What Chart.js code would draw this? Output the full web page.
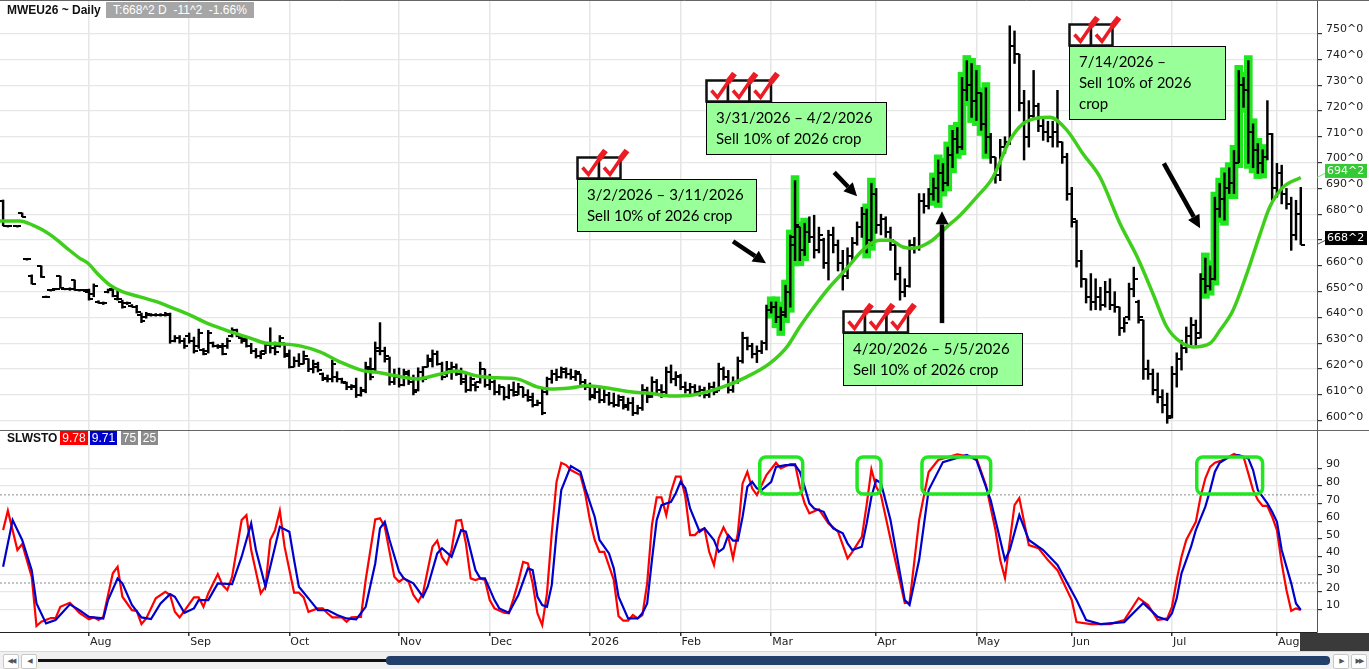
<!DOCTYPE html>
<html lang="en">
<head>
<meta charset="UTF-8">
<title>MWEU26 ~ Daily</title>
<script src="https://cdn.jsdelivr.net/npm/chart.js@4.4.1/dist/chart.umd.min.js"></script>
<style>
  html, body { margin: 0; padding: 0; background: #fff; }
  #wrap { position: relative; width: 1369px; height: 669px; overflow: hidden; }
  #box { position: absolute; left: 0; top: 0; width: 1369px; height: 651px; }
  .t { position: absolute; font: 12px "Liberation Sans", sans-serif; line-height: 14px; white-space: pre; }
  .b { font-weight: bold; color: #111; }
  .tag { color: #fff; text-align: center; height: 14px; }
  #scroll { position: absolute; left: 0; top: 651px; width: 1369px; height: 18px; background: #f0f0f0; border-top: 1px solid #d8d8d8; }
  .btn { position: absolute; top: 2px; width: 14px; height: 13px; background: #fff; border: 1px solid #c8c8c8; border-radius: 2px;
         font: 7px "DejaVu Sans"; line-height: 13px; text-align: center; color: #555; letter-spacing: -2px; }
  #track { position: absolute; left: 38px; top: 7px; width: 1292px; height: 3px; background: #111; }
  #thumb { position: absolute; left: 386px; top: 4px; width: 944px; height: 9px; background: #23406b; border-radius: 4px; }
  #corner { position: absolute; left: 1300px; top: 633px; width: 69px; height: 18px; background: #3a3a3a; }
</style>
</head>
<body>
<div id="wrap">
  <div id="box"><canvas id="chart"></canvas></div>

  <div class="t b" style="left:7px; top:3px;">MWEU26 ~ Daily</div>
  <div class="t tag" style="left:106px; top:2px; width:148px; height:16px; line-height:16px; background:#a6a6a6;">T:668^2 D  -11^2  -1.66%</div>

  <div class="t b" style="left:7px; top:431px;">SLWSTO</div>
  <div class="t tag" style="left:60px; top:431px; width:28px; background:#ff0000;">9.78</div>
  <div class="t tag" style="left:90px; top:431px; width:27px; background:#0000cc;">9.71</div>
  <div class="t tag" style="left:121px; top:431px; width:17px; background:#8c8c8c;">75</div>
  <div class="t tag" style="left:141px; top:431px; width:17px; background:#8c8c8c;">25</div>

  <div id="corner"></div>
  <div id="scroll">
    <div class="btn" style="left:3px;">&#9664;&#9664;</div>
    <div class="btn" style="left:21px;">&#9664;</div>
    <div id="track"></div>
    <div id="thumb"></div>
    <div class="btn" style="left:1333px;">&#9654;</div>
    <div class="btn" style="left:1351px;">&#9654;&#9654;</div>
  </div>
</div>

<script>
// ---- month ticks (bar index where each month starts) ----
var monthStarts = [18, 39, 60, 83, 102, 123, 142, 161, 183, 204, 224, 245, 267];
var monthLabels = ['Aug', 'Sep', 'Oct', 'Nov', 'Dec', '2026', 'Feb', 'Mar', 'Apr', 'May', 'Jun', 'Jul', 'Aug'];
var priceTicks = [600, 610, 620, 630, 640, 650, 660, 670, 680, 690, 700, 710, 720, 730, 740, 750];
var stochTicks = [10, 20, 30, 40, 50, 60, 70, 80, 90];
var stochLevels = [75, 25];

// ---- daily bars, one entry per trading day ----
var opens = [685,675.3,null,675.3,680.5,662.5,656,null,660,648,
650.5,651,656,651,651,654.5,650.5,650.5,650,649,
646,645.5,650,651,647,646,645.5,644.5,644,641,
640,641,641,641,641,641,631,632,631,633,
631,629,627.5,627,630,629,629,629,633,635,
632,631,629,627,625,627,630,628,629,630,
626,621,623,622,624,620,621,618,616.5,616,
617,616,614.5,613,613,610,612,620,620,628,
627,624,615,617,614,618,616,612,619,621,
623,626,622,618,619,621,618,616,612,614,
615,620,614,615,611,613,609,612,611,613,
610,609,606,607,611,616,618,617,619,618,
617,618,615,613,610,611,608,610,607,606,
608,606,607,603,605,612,610,615,612,611,
619,616,617,613,612,613,611,612,610,613,
612,620,617,612,615,623,632,629,626,627,
630,643,644,640,641,650,671,675,666,673,
671,666,670,661,672,668,661,656,664,669,
675,680,670,688,676,678,673,668,657,650,
652,668,667,685,683,688,690,696,692,703,
709,706,728,730,724,727,715,710,702,695,
706,708,745,742,723,710,718,722,714,712,
710,712,708,702,688,677,662,655,648,646,
648,645,650,645,644,636,640,651,646,639,
620,618,612,609,606,602,618,624,628,633,
637,634,655,652,655,682,686,690,692,700,
730,728,712,705,700,702,711,690,696,688,
684,672,680];

var highs = [685.5,675.5,null,675.5,680.5,662.8,656.5,null,660,648.3,
650.8,651.3,656,651.3,651.5,654.5,650.8,650.8,651,653,
646.5,646,651,651.7,650.5,646.7,646,645,644.7,641.7,
642,641.5,641.5,641.5,642,641.7,633,633,632,634,
632.4,635.5,628,635,630.5,629.5,630,632,636,635.5,
633,632.4,630,628,627,630,636,630.5,633,630,
627.4,624.7,626,627,624,623.5,622.7,618.5,617.7,623.5,
619,616.5,615,614,616.5,613,622.7,624.3,630.5,638,
628.5,624.7,620,620.4,620,619.6,617.7,620.5,621,625.5,
627.4,627,622.7,623,622.7,622,620.4,618.5,617,615,
622.7,620,618,615.8,614,613,614,615,614.5,613,
612,610.7,608,612.7,616.9,619.6,620,620.8,620.5,620,
619.5,618,616,614.6,613,612.7,612,611,610.7,610,
609.5,608.8,609,606,614,613,617,616,614,620.8,
621.6,619,618,615,614.5,614,613.5,613,614.6,615,
622.3,620.8,619.5,617,624.7,634.3,632.4,630,629,631,
644.8,646,646,644,652.5,671.9,693,675,676.5,679,
679.6,675,670.7,673.8,675,670,666,667,671,677,
682.7,682,692,690,680,679,675,668.8,659.5,655,
670,671,688,688,690,694,701,699.7,706,712.5,
713.6,733,739.5,738.4,735.7,727,729,711.3,702,709,
710,753,751,742,728,724,735.7,723,717.5,716,
716,728,708,703.6,690.4,677.7,666,655,657,655,
651.7,654,655,650,644,640,653.3,659.5,646.7,639,
623.5,620,618.5,612,610.7,621,626.3,631.2,636.3,640,
639,657,663,660,686.6,692,696,698,704.7,735.7,
733,739.5,715,707.4,705,724,711.3,699.7,699,690,
686.6,685.4,690.4];

var lows = [675.5,675,null,675,679,662.2,653,null,655.5,647.7,
650.2,650.7,651.5,650.7,650.5,650.5,650.2,650,646.7,648,
645.5,645,649.5,648,646.7,643.6,645,644,641.7,638,
639.7,640.5,640.5,640.5,640.5,630,630.5,630,628,630,
626.2,628,625.5,626.2,628.5,628,625.5,628,632.4,632.5,
630,628.5,626,624.3,624,626,626.2,625.5,628.5,624.5,
620.4,620.8,621,622,619,618.5,618.9,615.5,615,615,
615,614.5,612,612,609,609.5,610.8,615.8,619,625.5,
622.7,613.8,614,613,613.5,614,610,611.5,615,620.8,
620.8,621.5,615.8,617,616,617.5,614,611,611.5,611.5,
614.5,613,612,610,610,608,608.5,609.5,610,609,
607.5,605.3,605.8,602.3,610,614.5,615.5,616.5,616.5,616,
615.5,614,612,608,608.5,606.9,607,606,605.3,605.5,
604.5,604,602,602.5,604,607,609,610,609,610.5,
614.6,613.5,612,610.7,610,610.5,609.5,608.8,609,610,
611.5,615.8,610.7,611,614.5,622.3,627.4,624.3,622.5,626,
627.4,641.7,638,635,640,644,662,662,664,669,
663,665,659,654.5,665,658,650.6,655,662,668,
671,665,668,672.6,672,671,666,654.5,646.7,648,
651.7,664.9,666,680.4,682,685.4,684.6,689,691,698,
703.6,705,724,717.5,716.3,712.5,703.6,699.7,692,693,
703.6,707,738.4,720,701,706,717,712,708.6,708,
706,706,699.7,685.4,675,659.5,651.7,645.6,642.8,643,
642.8,644,643,642,633,634.3,639,648,637.8,616,
616,610,606.9,603,599,601,613,619.6,626.3,628.5,
629,632,649.4,650.6,654.5,678.8,677.7,688,688,700,
721.4,699.7,698,695.8,696,701,685.4,686.6,684,682,
666,670,668.25];

var closes = [675.5,675.3,null,675.3,679,662.5,653,null,655.5,648,
650.5,651,651.5,651,651,650.5,650.5,650.5,647,652,
645.5,645.5,650.5,648.5,647,644,645.5,644,642,638.5,
641.5,641,641,641,641.5,631,632,631,629,631,
627,634,626,634,629,628.5,626,631,635,633,
631.5,629,627,625,626,629.5,628,626.5,632,625,
621,623,622,625,620,622,619.5,616,616,622,
616,615,613,613.5,610,611.5,621,617,627,627,
625,615,617,614,619,615,611,619,616,624,
626,622,617,620,621,618,615,612,616,613,
620,614,617,611,613,609,612,610,613,610,
608,606,607,603,616,618,617,620,618,617,
619,615,613,609,611,608,610,607,606,609,
605.5,607,603,605,612,609,615,612,610,619,
616,617.5,613,612,613,611,612,610,613,611,
620,617,612,615,623,632,629,626,627,630,
643,644,640,642,650,668,676,666,673,671,
666,672,661,672,668,661,656,664,669,675,
680,670,688,676,678,673,670,657,650,652,
668,667,685,683,688,690,696,692,703,709,
706,728,730,724,727,715,710,702,695,706,
708,745,742,723,710,718,722,714,712,710,
712,708,702,688,678,662,655,648,646,648,
645,650,645,644,636,638,651,655,640,620,
618,612,609,606,601,618,624,628,633,637,
632,655,652,655,682,686,690,692,700,730,
728,712,705,700,702,711,690,696,688,684,
672,680,668.25];

// bars painted green (first index, last index)
var highlightRanges = [[161, 168], [181, 182], [195, 206], [252, 264]];

// moving average: [bar index, value]
var maPoints = [[-0.65,677.4],[3.5,677.4],[6.3,675.7],[8.4,673.8],[10.5,671.2],[13.4,666.8],[16.1,662.9],[17.8,661.0],
[19.7,657.1],[22.4,652.5],[25.1,649.9],[28.7,648.0],[32.3,646.0],[35.6,643.6],[39.2,640.9],[42.7,637.8],
[45.5,635.9],[48.2,634.1],[51.8,632.0],[54.9,630.1],[58.7,629.7],[62.2,629.0],[66.4,626.7],[70.6,622.8],
[75.4,619.4],[79.0,618.6],[82.6,617.3],[86.8,616.2],[91.0,617.8],[95.1,619.3],[99.3,617.3],[103.5,616.6],
[107.7,616.2],[111.9,613.1],[114.6,612.3],[118.8,612.7],[122.4,613.5],[126.6,612.7],[131.4,611.2],[135.6,610.6],
[139.8,609.6],[144.6,610.0],[150.3,612.7],[155.9,617.0],[160.7,622.2],[164.3,628.6],[167.0,636.4],[170.6,645.6],
[173.3,651.9],[176.9,659.1],[180.2,666.1],[183.8,669.9],[185.9,669.9],[188.6,667.3],[190.7,666.8],[194.3,669.3],
[197.8,675.1],[200.6,679.6],[204.1,686.7],[207.5,694.4],[211.0,708.6],[213.8,715.1],[216.7,717.2],[219.4,717.6],
[223.0,712.5],[226.3,703.5],[229.9,694.4],[234.1,676.4],[237.7,663.5],[241.0,649.3],[243.9,636.4],[246.7,630.6],
[249.4,628.6],[253.0,630.0],[255.1,635.1],[257.8,642.8],[260.7,657.0],[263.5,672.5],[265.5,682.8],[268.3,690.5],
[272,694.25]];

// slow stochastic, %K (red) and %D (blue): [bar index, value]
var stochK = [[0,55],[1,66],[3,43.7],[4,47.1],[6,28.5],[7,0.6],[8,3],[10,5.1],[11,5.1],[12,11.5],[14,13.8],[16,8.1],
[18,4.4],[19,5.5],[20,4],[21,5.8],[23,30.5],[24,34.2],[25,17.2],[27,9.6],[28,9.2],[29,1.7],[30,4.9],[32,16.3],
[34,20],[35,18.2],[36,8.7],[37,5.5],[38,9.2],[40,16.8],[41,16.8],[42,11.5],[43,19.1],[45,30.1],[46,23.8],[47,21],
[48,28.5],[50,60.7],[51,63.5],[52,43.7],[54,19.1],[55,22.9],[56,49.4],[57,55],[58,66],[59,45.6],[61,19.5],[62,19.5],
[63,16.8],[64,8.7],[66,10.6],[67,10.6],[68,7.8],[69,5.5],[71,5.5],[72,3],[73,5.5],[75,5.8],[76,26.7],[78,61.1],
[79,61.7],[80,56.9],[82,28.5],[83,25.7],[84,27.6],[85,25.7],[86,18.2],[87,14.4],[88,19.1],[90,45.6],[91,49],[92,39.5],
[93,35.7],[94,43.7],[95,60.3],[96,60.7],[97,47.5],[98,27.6],[99,26.7],[100,27.6],[101,26.7],[102,15.3],[103,10.6],
[105,8.1],[106,7.8],[107,16.3],[108,25.7],[109,37],[110,36.1],[111,24.8],[112,7.8],[113,1.1],[114,19.1],[115,53.2],
[116,82.4],[117,93.2],[118,91.9],[119,89.1],[121,86.2],[122,75.9],[123,60.7],[124,49.4],[125,42.7],[126,42.7],
[128,26.7],[129,6.2],[130,3.6],[131,3.6],[132,6.8],[133,4.9],[134,6.8],[135,24.8],[136,57.9],[137,73.6],[138,73.6],
[139,63.5],[140,76.8],[141,85.3],[142,85.3],[143,73.9],[144,52.2],[145,52.2],[146,55],[147,56],[148,42.7],[149,35.2],
[150,50.3],[151,56.6],[152,51.2],[153,39],[154,53.2],[155,81.5],[156,88.1],[157,78.7],[158,74.9],[160,86.2],
[162,93.2],[163,90],[165,92.5],[166,92.5],[167,79.6],[168,70.2],[169,64.5],[171,66.8],[173,58.8],[174,56.6],
[175,54.1],[177,39],[178,42.7],[180,51.2],[181,69.2],[182,89.5],[183,79.6],[184,74.9],[186,50],[189,13.6],[190,14],
[192,60.7],[194,88],[196,94.8],[200,98],[204,96],[206,80.6],[208,55],[209,38],[210,27.8],[212,69.2],[213,73.2],
[215,46.5],[217,44.8],[219,38],[221,32.3],[224,15.3],[225,2.8],[228,1.7],[232,1.7],[235,4],[238,16.5],[240,12.5],
[242,4],[244,4.9],[245,11.5],[246,26.7],[247,39.9],[248,49.4],[250,59.7],[251,73.9],[252,84.4],[253,90.9],[254,93.2],
[256,95.1],[258,98.2],[259,97],[260,96.6],[261,87.2],[262,77.7],[263,72.1],[264,68.7],[265,68.7],[266,62.6],[267,55],
[268,36.1],[269,21],[270,9.2],[271,10.6],[272,9.78]];

var stochD = [[0,34.2],[2,60.7],[4,49.4],[6,32.3],[7,13.4],[9,2.1],[11,4],[14,12.9],[16,9.6],[18,5.8],[21,4.9],[22,15.3],
[24,27.6],[25,24.8],[27,12.5],[29,5.5],[31,4.5],[33,13.4],[35,18.7],[36,17.2],[38,8.1],[40,10.6],[41,15.3],[43,15.3],
[45,24.8],[48,24.4],[50,39.9],[52,58.8],[53,43.7],[55,22.9],[56,34.2],[58,56.9],[60,54.1],[61,38],[62,22.9],[64,16.3],
[66,9.6],[68,9.6],[70,6.8],[72,4.9],[74,4.4],[76,11.5],[78,36.1],[79,56],[80,59.7],[81,49.4],[83,31.4],[84,27.6],
[86,24.8],[88,17.2],[89,22.9],[91,41.8],[92,44.7],[94,39.9],[96,55],[97,54.1],[99,32.3],[100,27.6],[101,27.6],
[103,15.3],[104,10.6],[106,8.1],[108,18.2],[110,33.3],[111,32.3],[112,17.2],[113,12.5],[114,11.5],[115,23.8],
[116,53.2],[117,77.7],[119,91.3],[121,88.1],[122,78.7],[124,62.6],[125,49.4],[127,41.8],[128,33.3],[129,17.2],
[131,4.9],[133,4.9],[134,7.8],[135,13.4],[136,38],[137,60.7],[138,69.2],[140,71.1],[141,75.9],[142,82.4],[143,78.7],
[144,67.3],[146,54.1],[147,56],[149,49.4],[150,42.7],[151,44.7],[152,52.2],[153,49],[154,49],[155,62.6],[156,79.6],
[157,82.4],[158,78.7],[159,77.7],[161,82.4],[162,90.9],[164,91.9],[166,91.9],[167,88.1],[168,79.6],[169,70.2],
[170,67.3],[172,65.4],[173,59.7],[174,56],[176,53.2],[177,47.5],[178,43.7],[180,45.6],[181,58.8],[182,73.9],
[183,83.4],[184,81.7],[186,60.7],[189,15.3],[190,12.5],[192,38],[194,77.7],[197,93.6],[202,97.6],[204,94.8],
[207,72],[210,38],[211,43.7],[213,63.5],[215,49.4],[218,43.7],[221,35.2],[225,15.3],[227,4],[230,1.7],[235,2.8],
[239,13.6],[242,5.8],[244,4],[245,7.8],[246,16.3],[247,30.5],[249,45.6],[250,55],[252,68.3],[253,77.7],[254,88.1],
[255,93.2],[257,96.6],[259,97.6],[261,95.7],[262,89.1],[263,77.7],[265,70.2],[266,65.4],[267,59.7],[268,43.7],
[270,24.8],[271,13.4],[272,9.71]];

// annotations, anchored to bar index / price
var noteBoxes = [
  { i: 120.3, p: 693.5, w: 179, h: 52, checks: 2, lines: ['3/2/2026 \u2013 3/11/2026', 'Sell 10% of 2026 crop'] },
  { i: 147.3, p: 723.3, w: 180, h: 52, checks: 3, lines: ['3/31/2026 \u2013 4/2/2026', 'Sell 10% of 2026 crop'] },
  { i: 176.0, p: 634.0, w: 179, h: 52, checks: 3, lines: ['4/20/2026 \u2013 5/5/2026', 'Sell 10% of 2026 crop'] },
  { i: 223.4, p: 745.0, w: 156, h: 73, checks: 2, lines: ['7/14/2026 \u2013', 'Sell 10% of 2026', 'crop'] }
];
var arrows = [
  [[153.0, 669.5], [159.9, 661.0]],
  [[174.2, 696.2], [179.0, 687.0]],
  [[196.8, 637.8], [196.8, 681.1]],
  [[243.3, 699.7], [250.9, 674.6]]
];
var stochBoxes = [[158.6, 167.6], [179.0, 184.0], [192.6, 207.0], [250.2, 264.0]];
var lastMA = 694.25, lastClose = 668.25;

// ---- build datasets ----
var barData = [], hiData = [], openData = [], closeData = [];
highs.forEach(function (h, i) {
  if (h == null) return;
  barData.push({ x: i, y: [lows[i], h] });
  openData.push({ x: i, y: opens[i] });
  closeData.push({ x: i, y: closes[i] });
});
highlightRanges.forEach(function (r) {
  for (var i = r[0]; i <= r[1]; i++) hiData.push({ x: i, y: [lows[i] - 2, highs[i] + 2] });
});

function tickImage(left) {
  var c = document.createElement('canvas');
  c.width = 8; c.height = 2;
  var g = c.getContext('2d');
  g.fillStyle = '#000';
  g.fillRect(left ? 0 : 4, 0, 4, 2);
  return c;
}

var xMin = -0.65, xMax = 275.4;
function pairs(a) { return a.map(function (p) { return { x: p[0], y: p[1] }; }); }

// fixed axis sizes, no extra room for half labels
function fitY(s) { s.width = 52; s.paddingTop = 0; s.paddingBottom = 0; }
function fitX(s) { s.height = 19; s.paddingLeft = 0; s.paddingRight = 0; }

var overlay = {
  id: 'overlay',
  afterDatasetsDraw: function (chart) {
    var ctx = chart.ctx, x = chart.scales.x, y = chart.scales.y, ys = chart.scales.ys;
    ctx.save();
    // green rounded boxes on the stochastic
    ctx.strokeStyle = '#22e622';
    ctx.lineWidth = 3.5;
    stochBoxes.forEach(function (b) {
      var x0 = x.getPixelForValue(b[0]), x1 = x.getPixelForValue(b[1]);
      var y0 = ys.getPixelForValue(96.5), y1 = ys.getPixelForValue(75.5);
      ctx.beginPath();
      ctx.roundRect(x0, y0, x1 - x0, y1 - y0, 6);
      ctx.stroke();
    });
    // arrows
    ctx.strokeStyle = '#000';
    ctx.fillStyle = '#000';
    arrows.forEach(function (a) {
      var x0 = x.getPixelForValue(a[0][0]), y0 = y.getPixelForValue(a[0][1]);
      var x1 = x.getPixelForValue(a[1][0]), y1 = y.getPixelForValue(a[1][1]);
      var ang = Math.atan2(y1 - y0, x1 - x0), head = 13, half = 6.5;
      var bx = x1 - head * Math.cos(ang), by = y1 - head * Math.sin(ang);
      ctx.lineWidth = 4.5;
      ctx.beginPath(); ctx.moveTo(x0, y0); ctx.lineTo(bx, by); ctx.stroke();
      ctx.beginPath();
      ctx.moveTo(x1, y1);
      ctx.lineTo(bx + half * Math.sin(ang), by - half * Math.cos(ang));
      ctx.lineTo(bx - half * Math.sin(ang), by + half * Math.cos(ang));
      ctx.closePath(); ctx.fill();
    });
    // text boxes with check marks
    noteBoxes.forEach(function (n) {
      var bx = Math.round(x.getPixelForValue(n.i)) + 0.5, by = Math.round(y.getPixelForValue(n.p)) + 0.5;
      ctx.fillStyle = '#99ff99';
      ctx.fillRect(bx, by, n.w, n.h);
      ctx.strokeStyle = '#000';
      ctx.lineWidth = 1;
      ctx.strokeRect(bx, by, n.w, n.h);
      ctx.fillStyle = '#000';
      ctx.font = '15px Lato';
      ctx.textBaseline = 'middle';
      ctx.textAlign = 'left';
      n.lines.forEach(function (t, k) { ctx.fillText(t, bx + 9.5, by + 15.5 + k * 21); });
      for (var k = 0; k < n.checks; k++) {
        var cx = bx + k * 21.5, cy = by - 22;
        ctx.fillStyle = '#fff';
        ctx.fillRect(cx, cy, 21.5, 21);
        ctx.strokeStyle = '#111';
        ctx.lineWidth = 2.5;
        ctx.strokeRect(cx, cy, 21.5, 21);
      }
      for (k = 0; k < n.checks; k++) {
        cx = bx + k * 21.5; cy = by - 22;
        ctx.strokeStyle = '#ec1c24';
        ctx.lineWidth = 3.5;
        ctx.lineJoin = 'miter';
        ctx.beginPath();
        ctx.moveTo(cx + 5, cy + 10);
        ctx.lineTo(cx + 11, cy + 17);
        ctx.lineTo(cx + 24, cy - 2);
        ctx.stroke();
        ctx.lineWidth = 6;
        ctx.beginPath();
        ctx.moveTo(cx + 21, cy + 2);
        ctx.lineTo(cx + 28, cy - 7);
        ctx.stroke();
      }
    });
    ctx.restore();
  },
  afterDraw: function (chart) {
    var ctx = chart.ctx, y = chart.scales.y, ys = chart.scales.ys, area = chart.chartArea;
    ctx.save();
    ctx.strokeStyle = '#666';
    ctx.lineWidth = 1;
    ctx.beginPath();
    ctx.moveTo(0, Math.round(ys.top) + 0.5); ctx.lineTo(chart.width, Math.round(ys.top) + 0.5);
    ctx.moveTo(0, 0.5); ctx.lineTo(chart.width, 0.5);
    ctx.stroke();
    // last value tags on the price axis
    [[lastMA, '694^2', '#35c935'], [lastClose, '668^2', '#000']].forEach(function (t) {
      var py = y.getPixelForValue(t[0]), x0 = area.right;
      ctx.strokeStyle = t[2] === '#000' ? '#555' : '#7ddf7d';
      ctx.lineWidth = 1;
      ctx.beginPath(); ctx.moveTo(x0, py); ctx.lineTo(x0 + 8, py - 4); ctx.stroke();
      ctx.fillStyle = t[2];
      ctx.fillRect(x0 + 8, py - 13.5, 42, 14);
      ctx.fillStyle = '#fff';
      ctx.font = '11px "DejaVu Sans"';
      ctx.textBaseline = 'middle';
      ctx.textAlign = 'left';
      ctx.fillText(t[1], x0 + 10, py - 6.5);
    });
    ctx.restore();
  }
};

Chart.defaults.font.family = 'DejaVu Sans';

new Chart(document.getElementById('chart'), {
  type: 'line',
  data: {
    datasets: [
      { type: 'bar', data: hiData, xAxisID: 'x', yAxisID: 'y', backgroundColor: '#1fe61f', barThickness: 8, grouped: false, order: 6 },
      { type: 'bar', data: barData, xAxisID: 'x', yAxisID: 'y', backgroundColor: '#000', barThickness: 1.8, grouped: false, order: 5 },
      { type: 'line', data: openData, xAxisID: 'x', yAxisID: 'y', showLine: false, pointStyle: tickImage(true), pointRadius: 3, order: 4 },
      { type: 'line', data: closeData, xAxisID: 'x', yAxisID: 'y', showLine: false, pointStyle: tickImage(false), pointRadius: 3, order: 4 },
      { type: 'line', data: pairs(maPoints), xAxisID: 'x', yAxisID: 'y', borderColor: '#3fce1c', borderWidth: 3.5,
        pointRadius: 0, tension: 0.4, cubicInterpolationMode: 'monotone', order: 3 },
      { type: 'line', data: [{ x: xMin, y: stochLevels[0] }, { x: xMax, y: stochLevels[0] }], xAxisID: 'x', yAxisID: 'ys',
        borderColor: '#8a8a8a', borderWidth: 1, borderDash: [2, 2], pointRadius: 0, order: 7 },
      { type: 'line', data: [{ x: xMin, y: stochLevels[1] }, { x: xMax, y: stochLevels[1] }], xAxisID: 'x', yAxisID: 'ys',
        borderColor: '#8a8a8a', borderWidth: 1, borderDash: [2, 2], pointRadius: 0, order: 7 },
      { type: 'line', data: pairs(stochK), xAxisID: 'x', yAxisID: 'ys', borderColor: '#ff0000', borderWidth: 2.2, pointRadius: 0, tension: 0, order: 2 },
      { type: 'line', data: pairs(stochD), xAxisID: 'x', yAxisID: 'ys', borderColor: '#0000cc', borderWidth: 2.2, pointRadius: 0, tension: 0, order: 1 }
    ]
  },
  options: {
    responsive: true,
    maintainAspectRatio: false,
    animation: false,
    events: [],
    layout: { autoPadding: false, padding: { top: 1, left: 0, right: 0, bottom: 0 } },
    plugins: { legend: { display: false }, tooltip: { enabled: false } },
    scales: {
      x: {
        type: 'linear', min: xMin, max: xMax, offset: false,
        afterBuildTicks: function (s) { s.ticks = monthStarts.map(function (v) { return { value: v }; }); },
        afterFit: fitX,
        grid: { color: '#e6e6e6', lineWidth: 1.5, offset: false, tickLength: 4, tickColor: '#333' },
        border: { display: true, color: '#222', width: 1 },
        ticks: { autoSkip: false, maxRotation: 0, minRotation: 0, align: 'start', padding: 0, labelOffset: 1,
          color: '#222', font: { size: 11 },
          callback: function (v, i) { return monthLabels[i]; } }
      },
      y: {
        type: 'linear', position: 'right', stack: 'panes', stackWeight: 429, min: 596.4, max: 762.6, beginAtZero: false,
        afterBuildTicks: function (s) { s.ticks = priceTicks.map(function (v) { return { value: v }; }); },
        afterFit: fitY,
        grid: { color: '#e6e6e6', lineWidth: 1.2, tickLength: 5, tickColor: '#333' },
        border: { display: true, color: '#555', width: 1 },
        ticks: { autoSkip: false, padding: 4, labelOffset: -4, color: '#1c1c1c', font: { size: 11 },
          callback: function (v) { return v + '^0'; } }
      },
      ys: {
        type: 'linear', position: 'right', stack: 'panes', stackWeight: 202, min: -2.8, max: 111.8, beginAtZero: false,
        afterBuildTicks: function (s) { s.ticks = stochTicks.map(function (v) { return { value: v }; }); },
        afterFit: fitY,
        grid: { color: '#e6e6e6', lineWidth: 1.2, tickLength: 5, tickColor: '#333' },
        border: { display: true, color: '#555', width: 1 },
        ticks: { autoSkip: false, padding: 4, labelOffset: -4, color: '#1c1c1c', font: { size: 11 } }
      }
    }
  },
  plugins: [overlay]
});
</script>
</body>
</html>
